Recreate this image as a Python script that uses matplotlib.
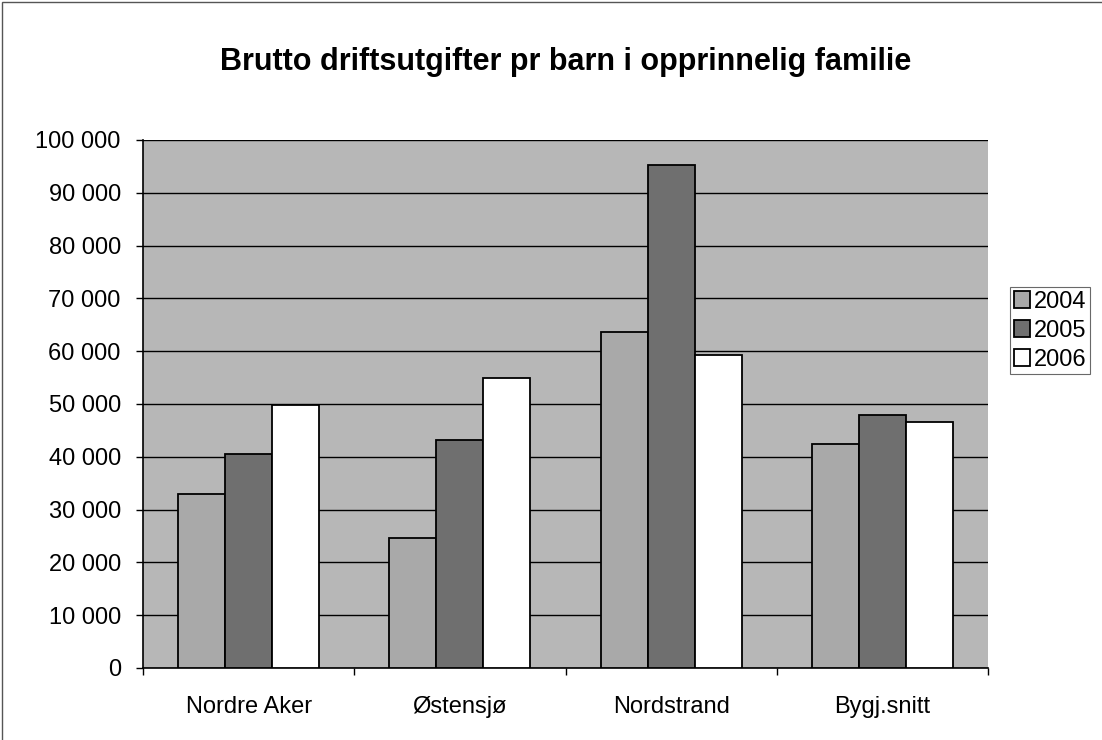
import matplotlib
matplotlib.use("Agg")
import matplotlib.pyplot as plt
from matplotlib.ticker import FuncFormatter, MultipleLocator
import numpy as np

plt.rcParams['font.family'] = ['Liberation Sans', 'DejaVu Sans']

categories = ["Nordre Aker", "Østensjø", "Nordstrand", "Bygj.snitt"]
years = ["2004", "2005", "2006"]
values_2004 = [32900, 24600, 63700, 42400]
values_2005 = [40500, 43200, 95300, 48000]
values_2006 = [49800, 55000, 59300, 46500]
series = [values_2004, values_2005, values_2006]
colors = ["#a9a9a9", "#6f6f6f", "#ffffff"]

fig = plt.figure(figsize=(11.02, 7.4), dpi=100)
ax = fig.add_axes([143 / 1102, 1 - 668 / 740, (988 - 143) / 1102, (668 - 140) / 740])
ax.set_facecolor("#b7b7b7")

barWidth = 1 / 4.5
x = np.arange(len(categories))
for i, vals in enumerate(series):
    pos = x + (i - 1) * barWidth
    ax.bar(pos, vals, width=barWidth, color=colors[i], edgecolor="black",
           linewidth=1.3, label=years[i], zorder=3)

ax.set_xlim(-0.5, len(categories) - 0.5)
ax.set_ylim(0, 100000)
ax.yaxis.set_major_locator(MultipleLocator(10000))
ax.yaxis.set_major_formatter(FuncFormatter(lambda v, p: f"{int(v):,}".replace(",", " ")))
ax.grid(axis="y", color="black", linewidth=1.0, zorder=1)
ax.set_axisbelow(True)

ax.set_xticks(x)
ax.set_xticklabels(categories, fontsize=17)
ax.tick_params(axis="x", which="major", length=0, pad=20)
ax.set_xticks(np.arange(len(categories) + 1) - 0.5, minor=True)
ax.tick_params(axis="x", which="minor", length=5, width=1, direction="out")
ax.tick_params(axis="y", labelsize=17, length=5, width=1, direction="out", pad=11)

for side in ["top", "right"]:
    ax.spines[side].set_visible(False)
for side in ["left", "bottom"]:
    ax.spines[side].set_linewidth(1.2)

fig.text(0.513, 1 - 62 / 740, "Brutto driftsutgifter pr barn i opprinnelig familie",
         ha="center", va="center", fontsize=22, fontweight="bold")

leg = ax.legend(loc="upper left", bbox_to_anchor=(1010 / 1102, 1 - 287 / 740),
                bbox_transform=fig.transFigure, frameon=True, fancybox=False,
                fontsize=17, handlelength=0.7, handleheight=0.7, handletextpad=0.15,
                borderpad=0.15, labelspacing=0.3, borderaxespad=0)
leg.get_frame().set_edgecolor("#444444")
leg.get_frame().set_linewidth(0.8)

# chart area border
fig.patches.append(plt.Rectangle((2 / 1102, -0.01), 1.02, 1 - 2 / 740 + 0.01,
                                 transform=fig.transFigure, fill=False,
                                 edgecolor="#555555", linewidth=1.0))

fig.savefig("out.png", dpi=100)
